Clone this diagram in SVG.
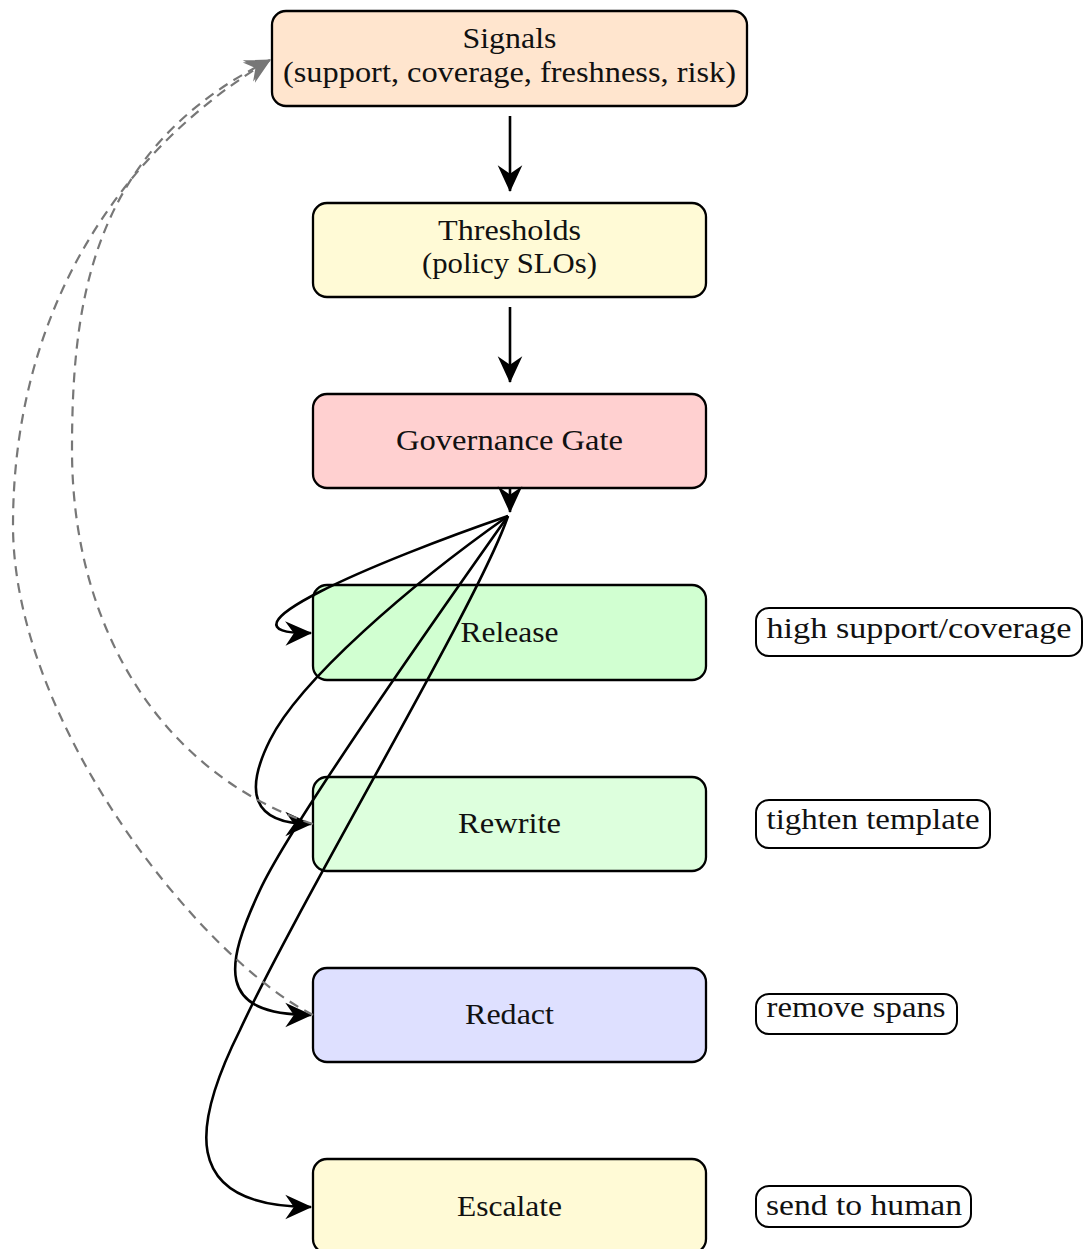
<svg xmlns="http://www.w3.org/2000/svg" width="1083" height="1249" viewBox="0 0 1083 1249">
<style>
.box{stroke:#000;stroke-width:2.3}
.lbl{fill:#fff;stroke:#000;stroke-width:2}
text{font-family:"Liberation Serif","Times New Roman",serif;font-size:29px;fill:#111}
.c{text-anchor:middle}
.edge{fill:none;stroke:#000;stroke-width:2.6}
.fb{fill:none;stroke:#777;stroke-width:2.2;stroke-dasharray:10 7}
</style>
<defs>
<marker id="ah" markerUnits="userSpaceOnUse" markerWidth="30" markerHeight="30" viewBox="-26 -13 28 26" refX="0" refY="0" orient="auto" overflow="visible">
<path d="M1,0 L-24,-11.5 L-16,0 L-24,11.5 Z" fill="#000"/>
</marker>
<marker id="ahg" markerUnits="userSpaceOnUse" markerWidth="30" markerHeight="30" viewBox="-26 -13 28 26" refX="0" refY="0" orient="auto" overflow="visible">
<path d="M1,0 L-23,-11 L-15,0 L-23,11 Z" fill="#777"/>
</marker>
</defs>
<rect width="1083" height="1249" fill="#fff"/>

<g id="signals">
<rect class="box" x="272" y="11" width="475" height="95" rx="14" fill="#FFE5CE"/>
<text class="c" x="509.5" y="48" textLength="94" lengthAdjust="spacingAndGlyphs">Signals</text>
<text class="c" x="509.5" y="82" textLength="453" lengthAdjust="spacingAndGlyphs">(support, coverage, freshness, risk)</text>
</g>
<g id="thresholds">
<rect class="box" x="313" y="203" width="393" height="94" rx="14" fill="#FFFAD6"/>
<text class="c" x="509.5" y="240" textLength="143" lengthAdjust="spacingAndGlyphs">Thresholds</text>
<text class="c" x="509.5" y="273" textLength="175" lengthAdjust="spacingAndGlyphs">(policy SLOs)</text>
</g>
<g id="gate">
<rect class="box" x="313" y="394" width="393" height="94" rx="14" fill="#FFD0D0"/>
<text class="c" x="509.5" y="450" textLength="227" lengthAdjust="spacingAndGlyphs">Governance Gate</text>
</g>
<g id="release">
<rect class="box" x="313" y="585" width="393" height="95" rx="14" fill="#D1FFD1"/>
<text class="c" x="509.5" y="642" textLength="98" lengthAdjust="spacingAndGlyphs">Release</text>
</g>
<g id="rewrite">
<rect class="box" x="313" y="777" width="393" height="94" rx="14" fill="#DDFFDD"/>
<text class="c" x="509.5" y="833" textLength="103" lengthAdjust="spacingAndGlyphs">Rewrite</text>
</g>
<g id="redact">
<rect class="box" x="313" y="968" width="393" height="94" rx="14" fill="#DEE0FF"/>
<text class="c" x="509.5" y="1024" textLength="89" lengthAdjust="spacingAndGlyphs">Redact</text>
</g>
<g id="escalate">
<rect class="box" x="313" y="1159" width="393" height="94" rx="14" fill="#FFFAD6"/>
<text class="c" x="509.5" y="1216" textLength="105" lengthAdjust="spacingAndGlyphs">Escalate</text>
</g>

<g id="label-release">
<rect class="lbl" x="756" y="608" width="326" height="48" rx="13"/>
<text class="c" x="919" y="638" textLength="305" lengthAdjust="spacingAndGlyphs">high support/coverage</text>
</g>
<g id="label-rewrite">
<rect class="lbl" x="756" y="800" width="234" height="48" rx="13"/>
<text class="c" x="873" y="829" textLength="213" lengthAdjust="spacingAndGlyphs">tighten template</text>
</g>
<g id="label-redact">
<rect class="lbl" x="756" y="994" width="201" height="40" rx="13"/>
<text class="c" x="856" y="1017" textLength="179" lengthAdjust="spacingAndGlyphs">remove spans</text>
</g>
<g id="label-escalate">
<rect class="lbl" x="756" y="1186" width="215" height="41" rx="13"/>
<text class="c" x="864" y="1215" textLength="196" lengthAdjust="spacingAndGlyphs">send to human</text>
</g>

<g id="connectors">
<path class="edge" d="M510,116 L510,191" marker-end="url(#ah)"/>
<path class="edge" d="M510,307 L510,382" marker-end="url(#ah)"/>
<path class="edge" d="M510,488 L510,512" marker-end="url(#ah)"/>
<path class="edge" d="M508,516 C380,560 200,635 311,633" marker-end="url(#ah)"/>
<path class="edge" d="M508,516 C410,585 300,680 270,740 C245,790 250,824 311,824" marker-end="url(#ah)"/>
<path class="edge" d="M508,516 C440,612 290,825 260,890 C225,965 215,1015 311,1015" marker-end="url(#ah)"/>
<path class="edge" d="M508,516 C480,600 300,900 240,1030 C195,1120 175,1207 311,1207" marker-end="url(#ah)"/>
<path class="fb" d="M313,824 C163,774 72,630 72,450 C72,300 92,148 270,60" marker-end="url(#ahg)"/>
<path class="fb" d="M313,1015 C203,960 13,725 13,525 C13,325 107,158 270,60" marker-end="url(#ahg)"/>
</g>
</svg>
